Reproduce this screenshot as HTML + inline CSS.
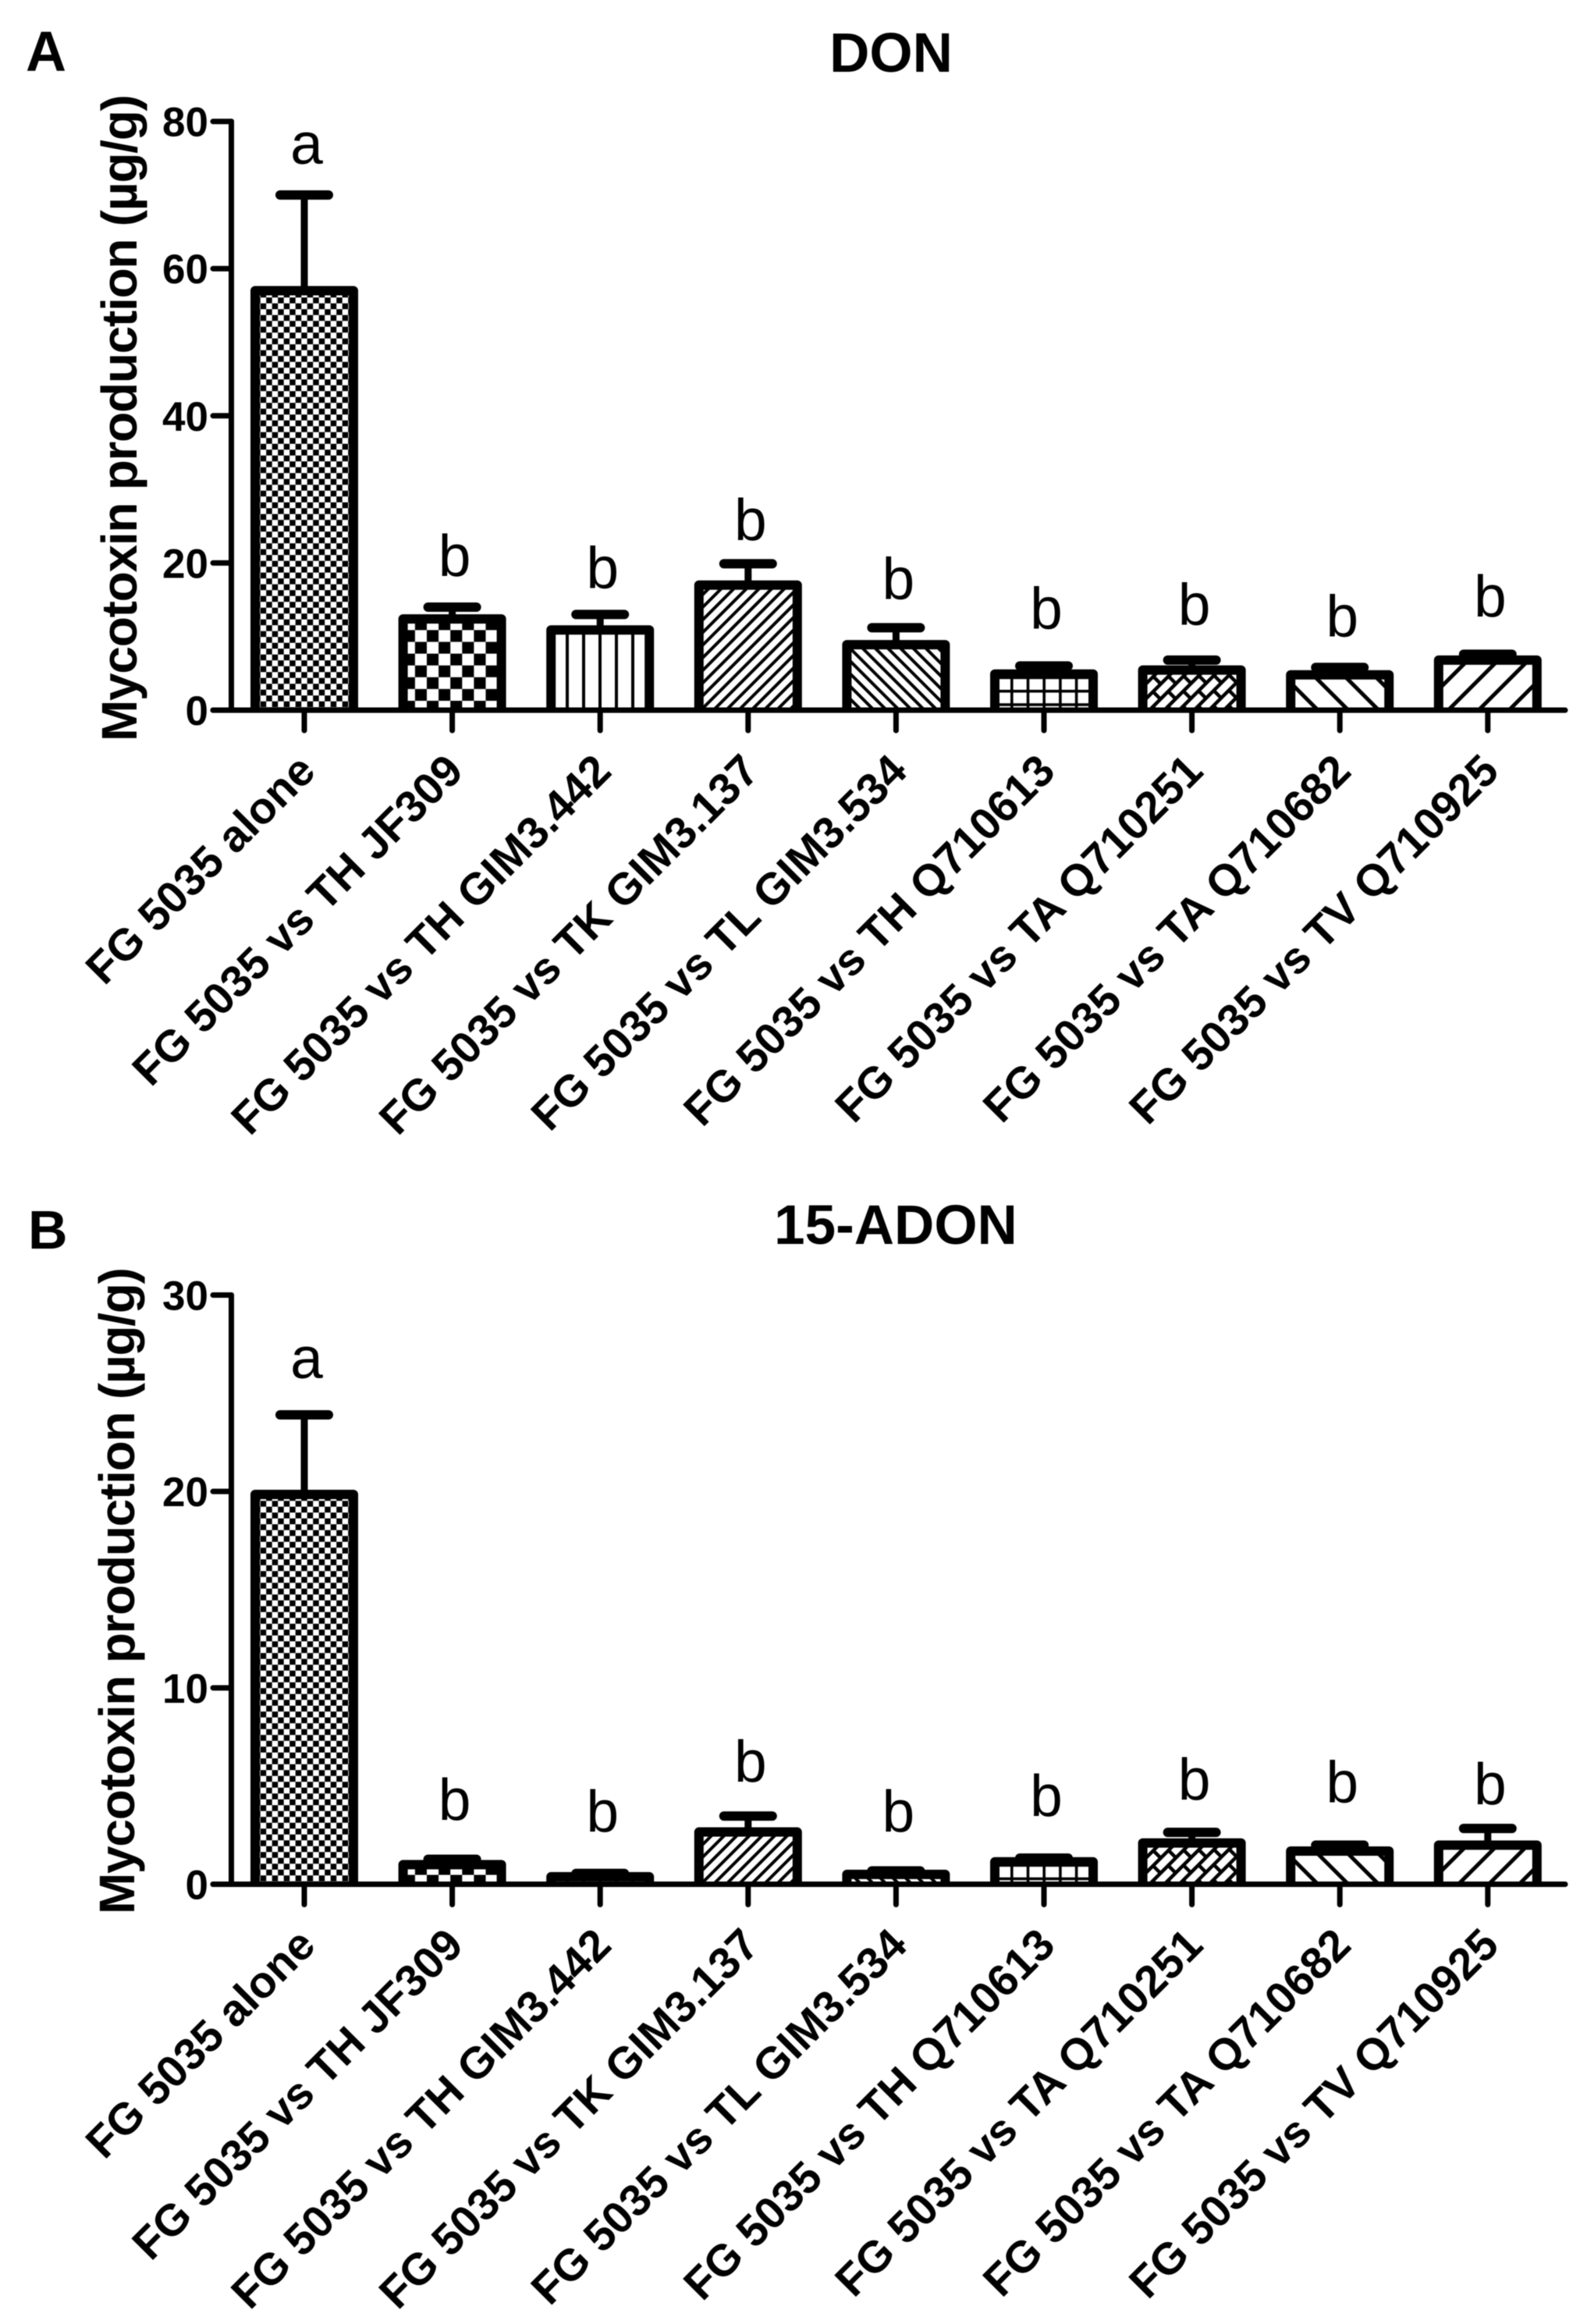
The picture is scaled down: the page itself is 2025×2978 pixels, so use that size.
<!DOCTYPE html>
<html>
<head>
<meta charset="utf-8">
<title>DON and 15-ADON mycotoxin production</title>
<style>
html,body{margin:0;padding:0;background:#fff;}
svg{display:block;filter:blur(0.6px);}
text{font-family:"Liberation Sans",Arial,sans-serif;fill:#000;}
.b{font-weight:bold;}
</style>
</head>
<body>
<svg id="figure" xmlns="http://www.w3.org/2000/svg" width="2025" height="2978" viewBox="0 0 2025 2978">
<defs id="defs"></defs>
<rect x="0" y="0" width="2025" height="2978" fill="#fff"/>
</svg>
<script>
const categories = ["FG 5035 alone","FG 5035 vs TH JF309","FG 5035 vs TH GIM3.442","FG 5035 vs TK GIM3.137","FG 5035 vs TL GIM3.534","FG 5035 vs TH Q710613","FG 5035 vs TA Q710251","FG 5035 vs TA Q710682","FG 5035 vs TV Q710925"];
const donValues = [57,12.4,10.9,17,8.9,4.9,5.45,4.8,6.8];
const donErrors = [13,1.6,2.1,2.9,2.3,1.1,1.35,1.0,0.8];
const donLetters = ["a","b","b","b","b","b","b","b","b"];
const donLetterClearance = [4.24,4.24,3.6,3.2,3.9,5.1,4.8,4.2,5.1];
const donTicks = [0,20,40,60,80];
const adonValues = [19.85,1.0,0.38,2.66,0.5,1.14,2.1,1.69,1.99];
const adonErrors = [4.05,0.27,0.17,0.81,0.18,0.19,0.54,0.3,0.85];
const adonLetters = ["a","b","b","b","b","b","b","b","b"];
const adonLetterClearance = [1.87,2.0,2.13,1.75,2.0,2.15,1.67,2.19,1.23];
const adonTicks = [0,10,20,30];

const svg = document.getElementById('figure');
const defs = document.getElementById('defs');
const NS = 'http://www.w3.org/2000/svg';

function el(tag, attrs, parent, txt){
  const e = document.createElementNS(NS, tag);
  for (const k in attrs) e.setAttribute(k, attrs[k]);
  if (txt !== undefined) e.textContent = txt;
  (parent || svg).appendChild(e);
  return e;
}

function hatch(id, tx, base, angle, period, width){
  return '<pattern id="'+id+'" patternUnits="userSpaceOnUse" width="'+period+'" height="'+period+'" patternTransform="translate('+tx+' '+base+') rotate('+angle+')"><rect width="'+period+'" height="'+period+'" fill="#fff"/><rect x="0" y="0" width="'+width+'" height="'+period+'" fill="#000"/></pattern>';
}
function buildPatterns(prefix, base, wideTx){
  let s = '';
  s += '<pattern id="'+prefix+'0" patternUnits="userSpaceOnUse" width="15" height="15" patternTransform="translate(326.2 '+(base-3.8)+')"><rect width="15" height="15" fill="#fff"/><rect width="7.5" height="7.5" fill="#000"/><rect x="7.5" y="7.5" width="7.5" height="7.5" fill="#000"/></pattern>';
  s += '<pattern id="'+prefix+'1" patternUnits="userSpaceOnUse" width="30.2" height="30.2" patternTransform="translate(547 '+(base-12)+')"><rect width="30.2" height="30.2" fill="#fff"/><rect width="15.1" height="15.1" fill="#000"/><rect x="15.1" y="15.1" width="15.1" height="15.1" fill="#000"/></pattern>';
  s += '<pattern id="'+prefix+'2" patternUnits="userSpaceOnUse" width="21" height="20" patternTransform="translate(725 '+base+')"><rect width="21" height="20" fill="#fff"/><rect x="0" width="4" height="20" fill="#000"/></pattern>';
  s += hatch(prefix+'3', 944, base, 45, 11.45, 4);
  s += hatch(prefix+'4', 0, base, -45, 11.45, 4);
  s += '<pattern id="'+prefix+'5" patternUnits="userSpaceOnUse" width="20.7" height="17.3" patternTransform="translate(1295 '+(base-8.8)+')"><rect width="20.7" height="17.3" fill="#fff"/><rect width="3.6" height="17.3" fill="#000"/><rect width="20.7" height="3.6" fill="#000"/></pattern>';
  s += '<pattern id="'+prefix+'6" patternUnits="userSpaceOnUse" width="28" height="27" patternTransform="translate(1470 '+base+') rotate(-45)"><rect width="28" height="27" fill="#fff"/><rect x="0" y="0" width="28" height="4.5" fill="#000"/><rect x="0" y="13.5" width="28" height="4.5" fill="#000"/><rect x="6" y="0" width="4.5" height="13.5" fill="#000"/><rect x="20" y="13.5" width="4.5" height="13.5" fill="#000"/></pattern>';
  s += hatch(prefix+'7', 1724.5, base, -45, 27.5, 5);
  s += hatch(prefix+'8', wideTx, base, 45, 27.5, 5);
  return s;
}
defs.innerHTML = buildPatterns('pa', 910, 1891.5) + buildPatterns('pb', 2414.5, 1904.5);

const firstTickX = 390;
const tickStep = 189.6;
const barHalf = 63;
const capHalf = 31;
function xPos(i){ return firstTickX + i*tickStep; }

function drawPanel(cfg){
  const g = el('g', {}, svg);
  
  
  const y = function(v){ return cfg.bottom - (v/cfg.yMax)*(cfg.bottom-cfg.top); };

  const panelLabel = el('text', {x:cfg.labelX, y:cfg.labelY, 'font-size':cfg.labelSize, class:'b'}, g, cfg.label);
  
  

  const title = el('text', {x:cfg.titleX, y:cfg.titleY, 'font-size':71, 'text-anchor':'middle', class:'b'}, g, cfg.title);
  
  

  const yTitle = el('text', {'font-size':64, class:'b', 'text-anchor':'middle', textLength:829, lengthAdjust:'spacing', transform:'translate('+cfg.yTitleX+' '+cfg.yTitleY+') rotate(-90)'}, g, 'Mycotoxin production (µg/g)');
  
  

  cfg.values.forEach(function(v,i){
    const cx = xPos(i);
    const top = v + cfg.errors[i];
    const errLine = el('line', {x1:cx, x2:cx, y1:y(v), y2:y(top), stroke:'#000', 'stroke-width':9}, g);
    
    
    const cap = el('line', {x1:cx-capHalf, x2:cx+capHalf, y1:y(top), y2:y(top), stroke:'#000', 'stroke-width':12, 'stroke-linecap':'round'}, g);
    
    
    const d = 'M'+(cx-barHalf)+' '+cfg.bottom+' V'+y(v)+' H'+(cx+barHalf)+' V'+cfg.bottom;
    const bar = el('path', {d:d, fill:'url(#'+cfg.prefix+i+')', stroke:'#000', 'stroke-width':12, 'stroke-linejoin':'round'}, g);
    
    
    const letter = el('text', {x:cx+3, y:y(top + cfg.clearance[i]), 'font-size':75, 'text-anchor':'middle'}, g, cfg.letters[i]);
    
    
    const tick = el('line', {x1:cx, x2:cx, y1:cfg.bottom, y2:cfg.bottom+26, stroke:'#000', 'stroke-width':7, 'stroke-linecap':'round'}, g);
    
    
    const label = el('text', {'font-size':57, class:'b', 'text-anchor':'end', transform:'translate('+(cx+17)+' '+(cfg.bottom+81)+') rotate(-45)'}, g, categories[i]);
    
    
  });

  const yAxis = el('line', {x1:296.5, x2:296.5, y1:cfg.top, y2:cfg.bottom, stroke:'#000', 'stroke-width':7, 'stroke-linecap':'round'}, g);
  
  
  const xAxis = el('line', {x1:273, x2:2006, y1:cfg.bottom, y2:cfg.bottom, stroke:'#000', 'stroke-width':7, 'stroke-linecap':'round'}, g);
  
  

  cfg.ticks.forEach(function(t){
    const tickLine = el('line', {x1:273, x2:296.5, y1:y(t), y2:y(t), stroke:'#000', 'stroke-width':7, 'stroke-linecap':'round'}, g);
    
    
    const tickLabel = el('text', {x:267, y:y(t)+19, 'font-size':53, class:'b', 'text-anchor':'end'}, g, String(t));
    
    
  });
}

drawPanel({name:'don', prefix:'pa', label:'A', labelX:33, labelY:90.5, labelSize:72, title:'DON', titleX:1142, titleY:92, top:155.6, bottom:910, yMax:80, yTitleX:175, yTitleY:535.5, values:donValues, errors:donErrors, letters:donLetters, clearance:donLetterClearance, ticks:donTicks});
drawPanel({name:'adon', prefix:'pb', label:'B', labelX:36, labelY:1600, labelSize:70, title:'15-ADON', titleX:1148, titleY:1594, top:1659.5, bottom:2414.5, yMax:30, yTitleX:172, yTitleY:2038.5, values:adonValues, errors:adonErrors, letters:adonLetters, clearance:adonLetterClearance, ticks:adonTicks});
</script>
</body>
</html>
